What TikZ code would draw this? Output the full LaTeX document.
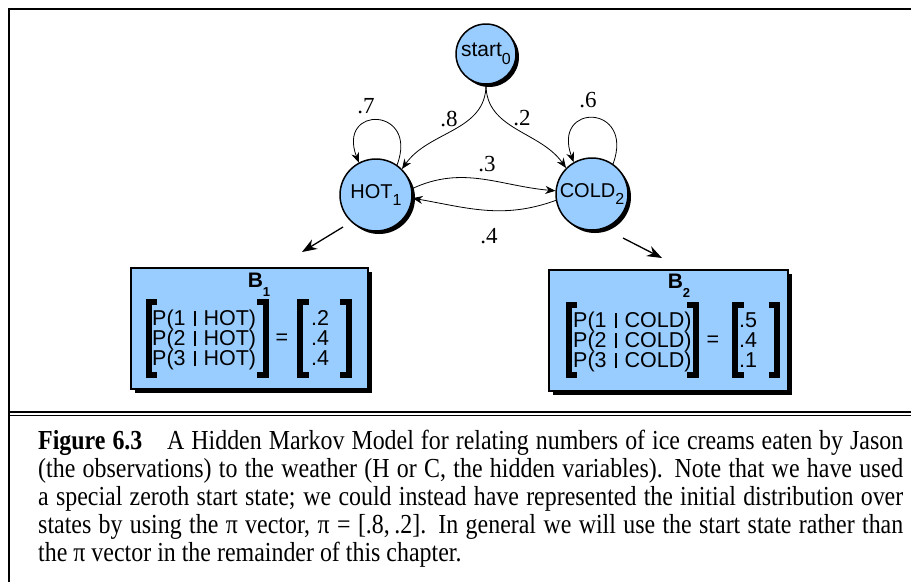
\documentclass[tikz,border=0pt]{standalone}
\usepackage{fontspec}
\setmainfont{Liberation Serif}
\setsansfont{Liberation Sans}
\newfontfamily\capfont{Liberation Serif}[FakeStretch=0.87]
\usetikzlibrary{arrows.meta,shadows}
\definecolor{stateblue}{HTML}{99CCFF}

% lowered small index used in the state names and box titles
\newcommand\stidx[1]{\raisebox{-0.36em}{\fontsize{16}{16}\selectfont #1}}
\newcommand\bidx[1]{\raisebox{-0.45em}{\fontsize{13}{13}\selectfont\bfseries #1}}
% the conditioning bar inside P( . | . )
\newcommand\given{\hspace{0.37em}\rule[-0.5pt]{2pt}{15.5pt}\hspace{0.37em}}
% rows of a probability column set closer than their glyphs
\newcommand\tightrows{\lineskiplimit=-40pt\relax\lineskip=0pt\relax}

\begin{document}
\begin{tikzpicture}[x=1pt,y=1pt,
  state/.style={circle, draw=black, line width=1.5pt, fill=stateblue,
    inner sep=0pt, font=\sffamily\fontsize{20}{20}\selectfont,
    general shadow={fill=black, shadow xshift=3pt, shadow yshift=-3pt}},
  obsbox/.style={rectangle, draw=black, line width=1.2pt, fill=stateblue,
    inner sep=0pt, minimum height=121pt,
    general shadow={fill=black, shadow xshift=4pt, shadow yshift=-4pt}},
  trans/.style={draw=black, line width=0.8pt, -{Stealth[length=10pt,width=8pt]}},
  emit/.style={draw=black, line width=1.3pt, -{Stealth[length=15pt,width=11pt]}},
  prob/.style={inner sep=0pt, font=\fontsize{23}{23}\selectfont},
  rows/.style={inner sep=0pt, font=\sffamily\fontsize{21.5}{20}\selectfont\tightrows},
  btitle/.style={inner sep=0pt, font=\sffamily\bfseries\fontsize{21}{21}\selectfont},
  brk/.style={draw=black, line width=6pt, line join=miter},
  frameline/.style={draw=black, line width=2pt},
  rule/.style={draw=black, line width=1.8pt}
]
\useasboundingbox (0,0) rectangle (911,-582);

% figure frame and the rule above the caption
\draw[frameline] (911,-9.3) -- (9.3,-9.3) -- (9.3,-582);
\draw[rule] (9.3,-411.6) -- (911,-411.6);
\draw[rule] (9.3,-415.4) -- (911,-415.4);

% states
\node[state, minimum size=60pt, font=\sffamily\fontsize{21}{21}\selectfont] (start) at (486,-54) {start\stidx{0}};
\node[state, minimum size=72pt] (hot) at (376,-195) {HOT\stidx{1}};
\node[state, minimum size=72pt] (cold) at (592,-194) {COLD\stidx{2}};

% transitions
\draw[trans] (start.south) to[out=-90,in=55] (hot.45);
\draw[trans] (start.south) to[out=-90,in=125] (cold.135);
\draw[trans] (hot.55) .. controls +(22,58) and +(-22,58) .. (hot.118);
\draw[trans] (cold.55) .. controls +(22,60) and +(-22,60) .. (cold.120);
\draw[trans] (hot.10) to[out=25,in=175] (cold.175);
\draw[trans] (cold.190) to[out=200,in=-10] (hot.-5);

% transition probabilities
\node[prob] (p7) at (366,-106) {.7};
\node[prob] (p8) at (449,-119) {.8};
\node[prob] (p2) at (522,-118) {.2};
\node[prob] (p6) at (588,-100) {.6};
\node[prob] (p3) at (487,-164) {.3};
\node[prob] (p4) at (489,-236) {.4};

% emission boxes
\node[obsbox, minimum width=237pt] (b1) at (249.5,-328.5) {};
\node[obsbox, minimum width=239pt] (b2) at (668.5,-330.5) {};

\coordinate (e1s) at (343,-227);
\coordinate (e1t) at (302,-252);
\coordinate (e2s) at (623,-238);
\coordinate (e2t) at (662,-258);
\draw[emit] (e1s) -- (e1t);
\draw[emit] (e2s) -- (e2t);

% B1 contents
\node[btitle, anchor=base] (b1t) at (259,-287) {B\bidx{1}};
\node[rows, align=left, anchor=north west] (b1p) at (152,-310)
  {P(1\given HOT)\\P(2\given HOT)\\P(3\given HOT)};
\node[rows] (b1eq) at (282,-339) {=};
\node[rows, align=center, anchor=north] (b1v) at (320,-310.4) {.2\\.4\\.4};
\draw[brk] (157,-302) -- (148.5,-302) -- (148.5,-375) -- (157,-375);
\draw[brk] (257,-302) -- (265.5,-302) -- (265.5,-375) -- (257,-375);
\draw[brk] (308.5,-302) -- (300,-302) -- (300,-375) -- (308.5,-375);
\draw[brk] (340,-302) -- (348.5,-302) -- (348.5,-375) -- (340,-375);

% B2 contents
\node[btitle, anchor=base] (b2t) at (679,-288) {B\bidx{2}};
\node[rows, align=left, anchor=north west] (b2p) at (573,-312)
  {P(1\given COLD)\\P(2\given COLD)\\P(3\given COLD)};
\node[rows] (b2eq) at (713,-341) {=};
\node[rows, align=center, anchor=north] (b2v) at (748,-312.4) {.5\\.4\\.1};
\draw[brk] (577,-305) -- (568.5,-305) -- (568.5,-375) -- (577,-375);
\draw[brk] (687,-305) -- (695.5,-305) -- (695.5,-375) -- (687,-375);
\draw[brk] (743.5,-305) -- (735,-305) -- (735,-375) -- (743.5,-375);
\draw[brk] (768.5,-305) -- (777,-305) -- (777,-375) -- (768.5,-375);

% caption
\node[anchor=north west, inner sep=0pt, text width=865pt, align=justify,
      font=\capfont\fontsize{27.5}{28}\selectfont] (cap) at (38,-430.2)
  {\noindent\tolerance=10000\hbadness=10000
   \textbf{Figure 6.3}\hspace{0.9em}A Hidden Markov Model for relating numbers of ice creams eaten by Jason\linebreak
   (the observations) to the weather (H or C, the hidden variables). Note that we have used\linebreak
   a special zeroth start state; we could instead have represented the initial distribution over\linebreak
   states by using the π vector, π = [.8,\,.2]. In general we will use the start state rather than\linebreak
   the π vector in the remainder of this chapter.};
\end{tikzpicture}
\end{document}
